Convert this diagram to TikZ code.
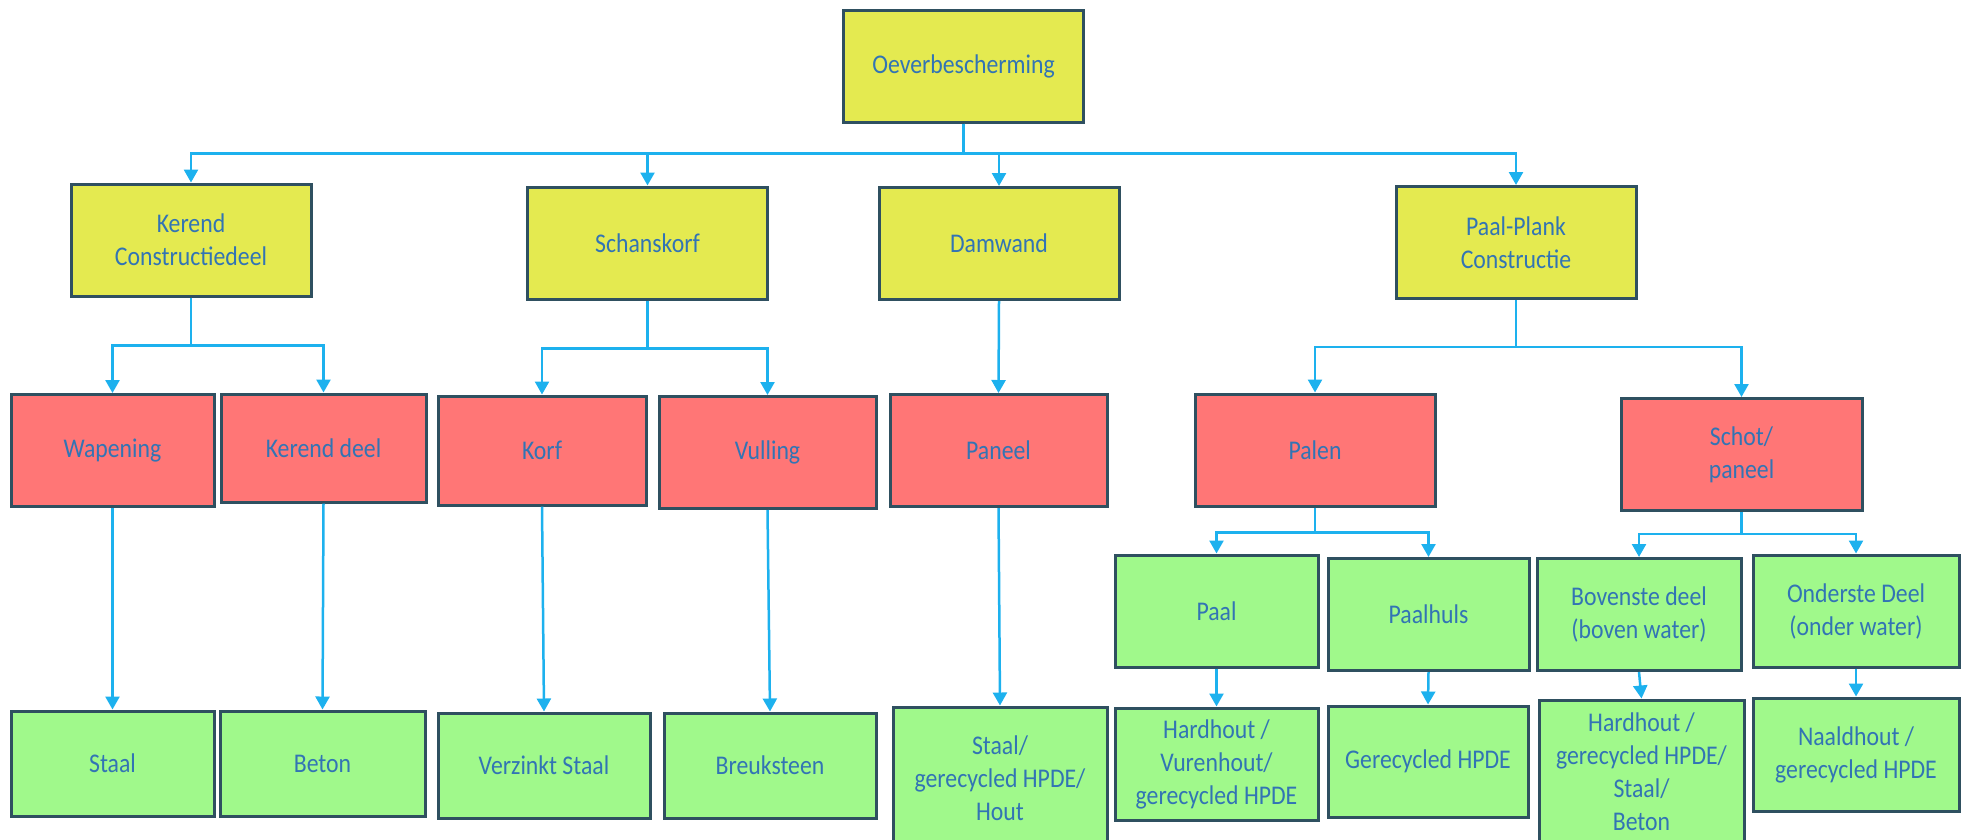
\documentclass[tikz,border=0pt]{standalone}
\usepackage{fontspec}
\setmainfont{Carlito}[FakeStretch=0.88]
\usetikzlibrary{arrows.meta}
\definecolor{boxYellow}{HTML}{E4EA50}
\definecolor{boxRed}{HTML}{FF7676}
\definecolor{boxGreen}{HTML}{A0F98B}
\definecolor{boxLine}{HTML}{2F5060}
\definecolor{boxText}{HTML}{3274B4}
\definecolor{linkBlue}{HTML}{1DB1EE}

\begin{document}
\begin{tikzpicture}[x=1pt, y=-1pt,
	box/.style={rectangle, draw=boxLine, line width=3pt, text=boxText, align=center, inner sep=0pt, font=\fontsize{27}{33}\selectfont},
	mainBox/.style={box, fill=boxYellow, minimum width=240pt, minimum height=112pt},
	partBox/.style={box, fill=boxRed, minimum height=112pt},
	materialBox/.style={box, fill=boxGreen},
	link/.style={draw=linkBlue, line width=2.5pt, -{Triangle[width=14pt, length=13pt]}}]
\useasboundingbox (0,0) rectangle (1961,839);

\node[mainBox](rootBox) at (963.5,66){Oeverbescherming};

	\node[mainBox](kerendBox) at (191,240){Kerend\\Constructiedeel};
	\node[mainBox](schanskorfBox) at (647.5,243){Schanskorf};
	\node[mainBox](damwandBox) at (999,243.5){Damwand};
	\node[mainBox](paalPlankBox) at (1516,242.5){Paal-Plank\\Constructie};

	\node[partBox, minimum width=203pt](wapeningBox) at (112.5,450.5){Wapening};
	\node[partBox, minimum width=205pt, minimum height=108pt](kerendDeelBox) at (323.5,448){Kerend deel};
	\node[partBox, minimum width=208pt, minimum height=109pt](korfBox) at (542,450.5){Korf};
	\node[partBox, minimum width=217pt](vullingBox) at (767.5,452.5){Vulling};
	\node[partBox, minimum width=217pt](paneelBox) at (998.5,450.5){Paneel};
	\node[partBox, minimum width=240pt](palenBox) at (1315,450){Palen};
	\node[partBox, minimum width=241pt](schotBox) at (1741.5,454.5){Schot/\\paneel};

	\node[materialBox, minimum width=203pt, minimum height=112pt](paalBox) at (1216.5,611){Paal};
	\node[materialBox, minimum width=201pt, minimum height=112pt](paalhulsBox) at (1428.5,614.5){Paalhuls};
	\node[materialBox, minimum width=204pt, minimum height=112pt](bovensteBox) at (1639,614.5){Bovenste deel\\(boven water)};
	\node[materialBox, minimum width=206pt, minimum height=112pt](ondersteBox) at (1856,611){Onderste Deel\\(onder water)};

	\node[materialBox, minimum width=203pt, minimum height=105pt](staalBox) at (112.5,763.5){Staal};
	\node[materialBox, minimum width=205pt, minimum height=105pt](betonBox) at (322.5,763.5){Beton};
	\node[materialBox, minimum width=212pt, minimum height=105pt](verzinktBox) at (544,765.5){Verzinkt Staal};
	\node[materialBox, minimum width=212pt, minimum height=105pt](breuksteenBox) at (770,765.5){Breuksteen};
	\node[materialBox, minimum width=214pt, minimum height=143pt](paneelMatBox) at (1000,778.5){Staal/\\gerecycled HPDE/\\Hout};
	\node[materialBox, minimum width=203pt, minimum height=112pt](paalMatBox) at (1216.5,764){Hardhout /\\Vurenhout/\\gerecycled HPDE};
	\node[materialBox, minimum width=200pt, minimum height=111pt](paalhulsMatBox) at (1428,761.5){Gerecycled HPDE};
	\node[materialBox, minimum width=205pt, minimum height=143pt](bovensteMatBox) at (1641.5,771.5){Hardhout /\\gerecycled HPDE/\\Staal/\\Beton};
	\node[materialBox, minimum width=206pt, minimum height=113pt](ondersteMatBox) at (1856,754.5){Naaldhout /\\gerecycled HPDE};

	\draw[link] (rootBox.south) -- ++(0,30) -| (kerendBox.north);
	\draw[link] (rootBox.south) -- ++(0,30) -| (schanskorfBox.north);
	\draw[link] (rootBox.south) -- ++(0,30) -| (damwandBox.north);
	\draw[link] (rootBox.south) -- ++(0,30) -| (paalPlankBox.north);

	\draw[link] (kerendBox.south) -- ++(0,48) -| (wapeningBox.north);
	\draw[link] (kerendBox.south) -- ++(0,48) -| (kerendDeelBox.north);
	\draw[link] (schanskorfBox.south) -- ++(0,48) -| (korfBox.north);
	\draw[link] (schanskorfBox.south) -- ++(0,48) -| (vullingBox.north);
	\draw[link] (damwandBox.south) -- (paneelBox.north);
	\draw[link] (paalPlankBox.south) -- ++(0,47) -| (palenBox.north);
	\draw[link] (paalPlankBox.south) -- ++(0,47) -| (schotBox.north);

	\draw[link] (palenBox.south) -- ++(0,25) -| (paalBox.north);
	\draw[link] (palenBox.south) -- ++(0,25) -| (paalhulsBox.north);
	\draw[link] (schotBox.south) -- ++(0,22) -| (bovensteBox.north);
	\draw[link] (schotBox.south) -- ++(0,22) -| (ondersteBox.north);

	\draw[link] (wapeningBox.south) -- (staalBox.north);
	\draw[link] (kerendDeelBox.south) -- (betonBox.north);
	\draw[link] (korfBox.south) -- (verzinktBox.north);
	\draw[link] (vullingBox.south) -- (breuksteenBox.north);
	\draw[link] (paneelBox.south) -- (paneelMatBox.north);
	\draw[link] (paalBox.south) -- (paalMatBox.north);
	\draw[link] (paalhulsBox.south) -- (paalhulsMatBox.north);
	\draw[link] (bovensteBox.south) -- (bovensteMatBox.north);
	\draw[link] (ondersteBox.south) -- (ondersteMatBox.north);
\end{tikzpicture}
\end{document}
